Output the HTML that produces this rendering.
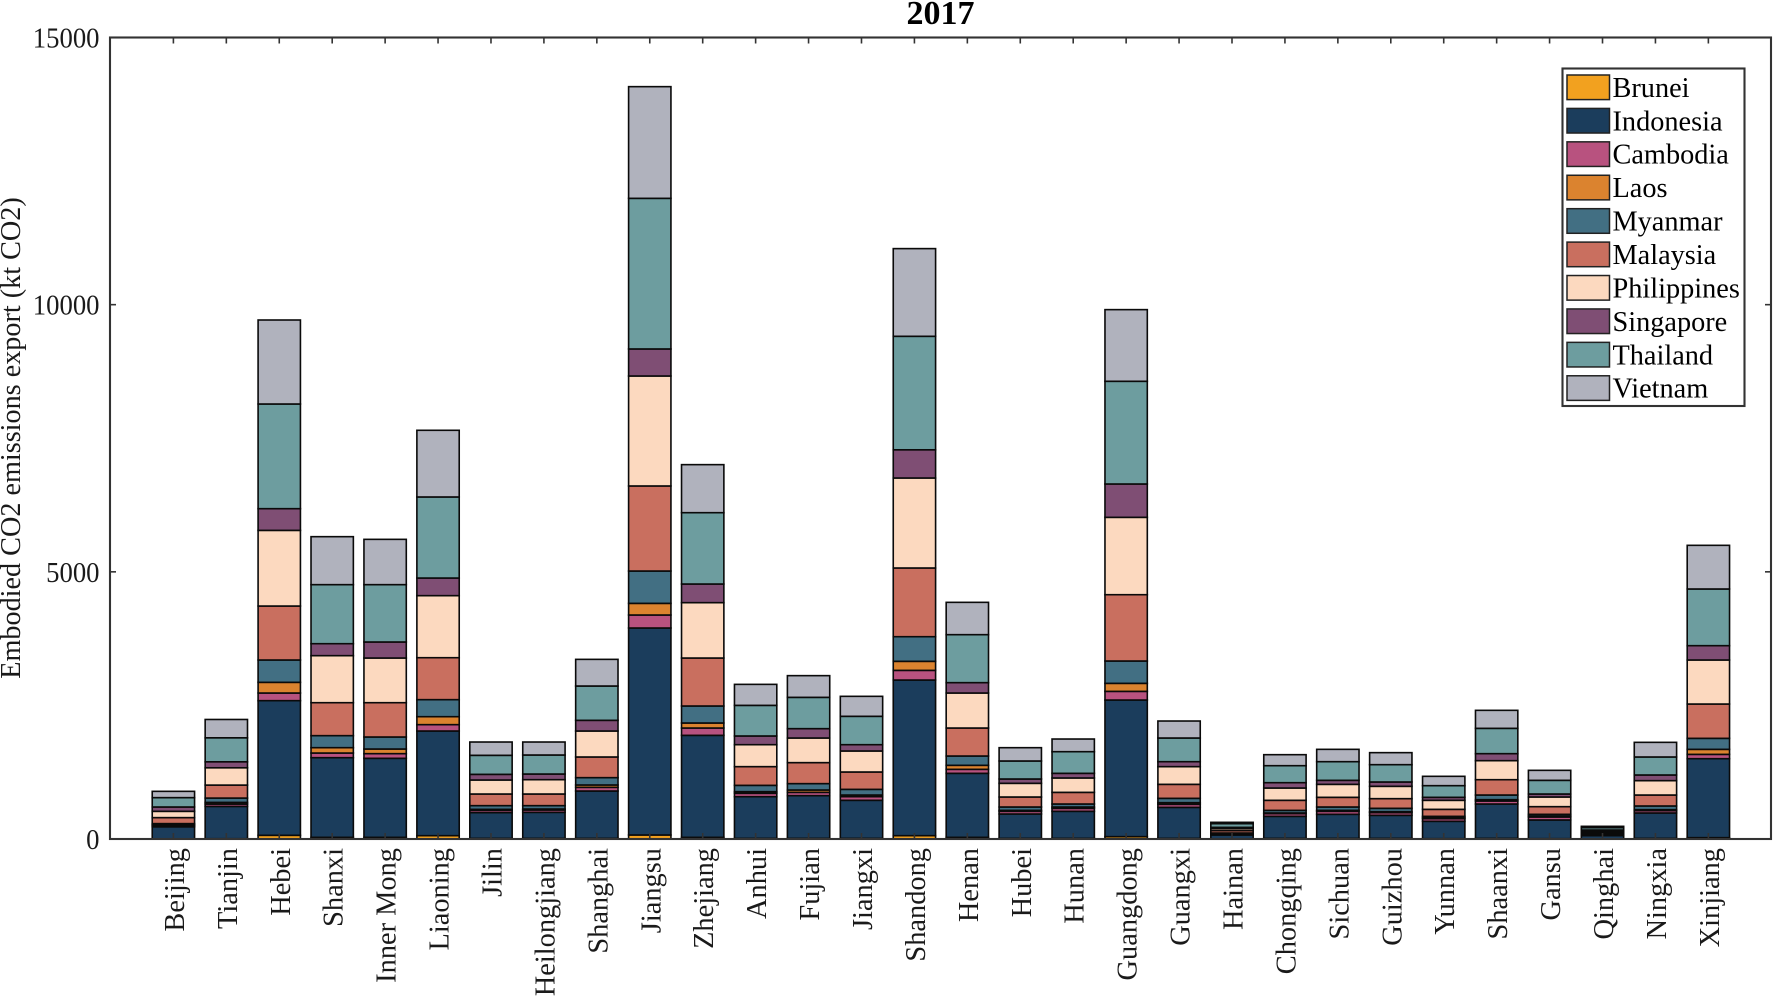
<!DOCTYPE html>
<html>
<head>
<meta charset="utf-8">
<title>2017 Embodied CO2 emissions export</title>
<style>
html,body{margin:0;padding:0;background:#fff;}
svg{display:block;font-family:"Liberation Serif",serif;}
</style>
</head>
<body>
<svg id="chart" xmlns="http://www.w3.org/2000/svg" width="1775" height="996" viewBox="0 0 1775 996">
  <rect x="0" y="0" width="1775" height="996" fill="#fff"/>
  <text x="940.5" y="24" font-size="34" font-weight="bold" text-anchor="middle" fill="#000">2017</text>
  <text transform="translate(20,438) rotate(-90)" font-size="28.2" text-anchor="middle" fill="#1a1a1a">Embodied CO2 emissions export (kt CO2)</text>
  <g id="bars"></g>
  <g id="axes"></g>
  <g id="legend"></g>
</svg>
<script>
const categories = ["Beijing","Tianjin","Hebei","Shanxi","Inner Mong","Liaoning","Jilin","Heilongjiang","Shanghai","Jiangsu","Zhejiang","Anhui","Fujian","Jiangxi","Shandong","Henan","Hubei","Hunan","Guangdong","Guangxi","Hainan","Chongqing","Sichuan","Guizhou","Yunnan","Shaanxi","Gansu","Qinghai","Ningxia","Xinjiang"];
const seriesNames = ["Brunei","Indonesia","Cambodia","Laos","Myanmar","Malaysia","Philippines","Singapore","Thailand","Vietnam"];
const seriesColors = ["#f2a11f","#1b3d5c","#b8527f","#db832f","#426f83","#c96f5f","#fcd9bf","#7f4e74","#6d9d9f","#b0b2bd"];
const yTickValues = [0,5000,10000,15000];
const yTickLabels = ["0","5000","10000","15000"];

const brunei     = [3,5,69,31,31,62,12,12,12,75,31,12,12,12,62,31,12,12,44,12,2,12,12,12,6,12,6,2,12,25];
const indonesia  = [225,605,2520,1491,1479,1959,481,487,886,3874,1909,780,799,712,2913,1198,456,506,2557,580,73,412,450,431,325,643,350,60,475,1478];
const cambodia   = [25,44,143,87,87,119,43,44,69,243,137,63,62,68,181,75,50,56,162,57,19,50,56,50,49,56,56,25,43,81];
const laos       = [15,31,200,100,87,149,19,18,44,218,94,31,44,31,169,75,18,25,150,31,6,13,18,18,19,25,18,13,19,94];
const myanmar    = [20,81,418,225,225,319,69,63,137,605,318,118,119,106,461,174,63,56,418,81,12,49,63,63,25,87,32,12,69,206];
const malaysia   = [112,243,1010,617,642,785,218,218,387,1592,898,350,393,325,1286,524,187,218,1241,262,44,188,181,181,131,287,143,19,205,642];
const philippines= [118,324,1416,880,836,1161,262,268,486,2058,1036,411,461,393,1684,655,256,269,1448,331,37,230,243,231,169,356,181,25,269,824];
const singapore  = [81,112,406,224,300,330,106,106,200,506,349,163,175,118,528,194,81,87,624,93,25,100,75,81,56,131,56,12,106,268];
const thailand   = [175,449,1959,1105,1073,1517,356,356,642,2819,1335,573,586,531,2124,898,337,405,1922,443,69,318,349,324,218,474,256,44,337,1061];
const vietnam    = [118,343,1572,898,848,1248,249,243,499,2090,899,393,406,374,1641,605,249,237,1341,318,25,206,231,225,175,337,187,25,274,817];

const seriesValues = [brunei,indonesia,cambodia,laos,myanmar,malaysia,philippines,singapore,thailand,vietnam];

const NS = "http://www.w3.org/2000/svg";
const AX = {left:110, right:1771, top:37.5, bottom:839, x0:173.4, step:52.93, yMax:15000, barFrac:0.8};
function xScale(i){ return AX.x0 + AX.step * i; }
function yScale(v){ return AX.bottom - (AX.bottom - AX.top) * v / AX.yMax; }
function make(tag, attrs){
  const el = document.createElementNS(NS, tag);
  for (const k in attrs) el.setAttribute(k, attrs[k]);
  return el;
}
function slug(s){ return s.toLowerCase().replace(/\s+/g,'-'); }

const barsG = document.getElementById('bars');
const axesG = document.getElementById('axes');
const legendG = document.getElementById('legend');

// Bars
const barW = AX.step * AX.barFrac;
categories.forEach(function(cat, i){
  let cum = 0;
  seriesValues.forEach(function(vals, s){
    const y1 = yScale(cum);
    cum += vals[i];
    const y2 = yScale(cum);
    const r = make('rect', {x:xScale(i)-barW/2, y:y2, width:barW, height:Math.max(0,y1-y2), fill:seriesColors[s], stroke:'#0a0a0a', 'stroke-width':1.6});
    
    
    barsG.appendChild(r);
  });
});

// Ticks: x
categories.forEach(function(cat, i){
  const x = xScale(i);
  const t1 = make('line', {x1:x, x2:x, y1:AX.bottom, y2:AX.bottom-6, stroke:'#333', 'stroke-width':1.6});
  
  
  axesG.appendChild(t1);
  const t2 = make('line', {x1:x, x2:x, y1:AX.top, y2:AX.top+6, stroke:'#333', 'stroke-width':1.6});
  
  
  axesG.appendChild(t2);
  const lab = make('text', {transform:'translate(' + (x+10.5) + ',848) rotate(-90)', 'font-size':28.4, 'text-anchor':'end', fill:'#1a1a1a'});
  lab.textContent = cat;
  
  
  axesG.appendChild(lab);
});

// Ticks: y
yTickValues.forEach(function(v, i){
  const y = yScale(v);
  const t1 = make('line', {x1:AX.left, x2:AX.left+6, y1:y, y2:y, stroke:'#333', 'stroke-width':1.6});
  
  
  axesG.appendChild(t1);
  const t2 = make('line', {x1:AX.right, x2:AX.right-6, y1:y, y2:y, stroke:'#333', 'stroke-width':1.6});
  
  
  axesG.appendChild(t2);
  const lab = make('text', {transform:'translate(99.5,' + (y+10) + ') scale(0.92,1)', 'font-size':29, 'text-anchor':'end', fill:'#1a1a1a'});
  lab.textContent = yTickLabels[i];
  
  
  axesG.appendChild(lab);
});

// Axes box
const box = make('rect', {x:AX.left, y:AX.top, width:AX.right-AX.left, height:AX.bottom-AX.top, fill:'none', stroke:'#333', 'stroke-width':2.1});


axesG.appendChild(box);

// Legend
const legBox = make('rect', {x:1562.5, y:68.5, width:182, height:337.5, fill:'#fff', stroke:'#333', 'stroke-width':2.1});


legendG.appendChild(legBox);
seriesNames.forEach(function(name, s){
  const y = 75 + s * 33.42;
  const sw = make('rect', {x:1567, y:y, width:42.5, height:24.6, fill:seriesColors[s], stroke:'#222', 'stroke-width':1.5});
  
  
  legendG.appendChild(sw);
  const lab = make('text', {x:1612.5, y:y+21.9, 'font-size':28.3, fill:'#000'});
  lab.textContent = name;
  
  
  legendG.appendChild(lab);
});
</script>
</body>
</html>
